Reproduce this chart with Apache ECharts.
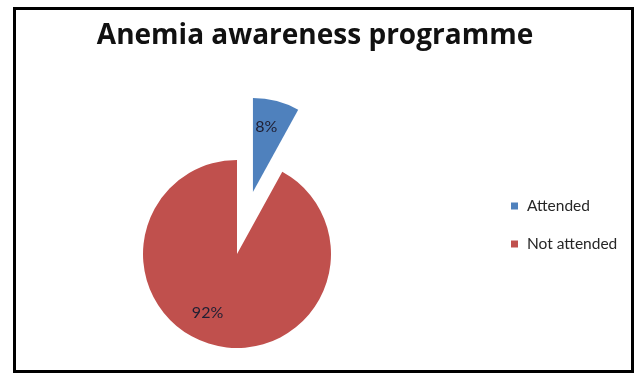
<!DOCTYPE html>
<html>
<head>
<meta charset="utf-8">
<script src="https://cdn.jsdelivr.net/npm/echarts@6/dist/echarts.min.js"></script>
<style>
  html, body { margin: 0; padding: 0; background: #fff; }
  #chart { width: 638px; height: 374px; }
</style>
</head>
<body>
<div id="chart"></div>
<script>
// Share of participants who attended the anemia awareness programme
const categories = ['Attended', 'Not attended'];
const shares = [8, 92];
const sliceColors = ['#4F81BD', '#C0504D'];

// nudge of each percentage label away from the default inside position
const labelNudge = [
  { dx: 1, dy: -17 },
  { dx: -17, dy: 10 }
];

const chart = echarts.init(document.getElementById('chart'), null, { renderer: 'canvas' });

const pieData = categories.map((name, i) => ({
  name: name,
  value: shares[i],
  selected: i === 0,
  itemStyle: { color: sliceColors[i] }
}));

chart.setOption({
  backgroundColor: '#fff',
  animation: false,
  title: {
    text: 'Anemia awareness programme',
    left: 310,
    top: 17,
    textAlign: 'center',
    textStyle: {
      fontFamily: 'Open Sans',
      fontWeight: 'bold',
      fontSize: 28,
      color: '#111'
    }
  },
  legend: {
    orient: 'vertical',
    left: 511,
    top: 198,
    padding: 0,
    itemWidth: 7,
    itemHeight: 7,
    itemGap: 22,
    icon: 'rect',
    selectedMode: false,
    data: categories,
    textStyle: {
      fontFamily: 'Lato',
      fontSize: 15.5,
      lineHeight: 16,
      color: '#262626',
      padding: [0, 0, 0, 4]
    }
  },
  graphic: [{
    type: 'rect',
    shape: { x: 14.5, y: 8.5, width: 618, height: 363 },
    style: { fill: 'none', stroke: '#000', lineWidth: 3 },
    silent: true
  }],
  series: [{
    type: 'pie',
    center: [237, 254],
    radius: 94,
    startAngle: 90,
    clockwise: true,
    selectedMode: 'single',
    selectedOffset: 64,
    avoidLabelOverlap: false,
    label: {
      show: true,
      position: 'inside',
      formatter: '{c}%',
      fontFamily: 'Lato',
      fontSize: 16,
      color: '#1f1f33'
    },
    labelLine: { show: false },
    labelLayout: (params) => labelNudge[params.dataIndex],
    emphasis: { disabled: true },
    data: pieData
  }]
});
</script>
</body>
</html>
